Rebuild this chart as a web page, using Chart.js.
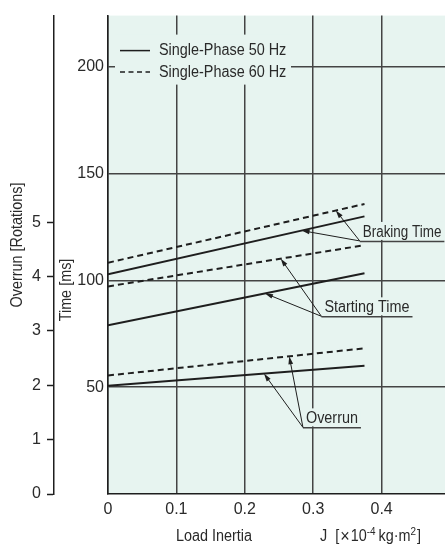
<!DOCTYPE html>
<html>
<head>
<meta charset="utf-8">
<script src="https://cdn.jsdelivr.net/npm/chart.js@4"></script>
<style>
    html, body { margin: 0; padding: 0; overflow: hidden; background: #fff; }
    canvas { display: block; }
</style>
</head>
<body>
<canvas id="chart" width="460" height="545"></canvas>
<script>
(function () {
    'use strict';

    // Load inertia J [x10^-4 kg·m2] at the two ends of every line.
    var LOAD_INERTIA = [0, 0.375];

    // Time [ms]
    var BRAKING_50  = [102.9, 130.0];
    var BRAKING_60  = [108.3, 135.8];
    var STARTING_50 = [79.0, 103.4];
    var STARTING_60 = [97.2, 116.5];

    // Overrun [rotations]
    var OVERRUN_50 = [1.99, 2.36];
    var OVERRUN_60 = [2.18, 2.68];

    var X_TICKS       = [0, 0.1, 0.2, 0.3, 0.4];
    var TIME_TICKS    = [50, 100, 150, 200];
    var OVERRUN_TICKS = [0, 1, 2, 3, 4, 5];

    var LEGEND_LABELS = ['Single-Phase 50 Hz', 'Single-Phase 60 Hz'];

    var BG      = '#e7f4f0';
    var INK     = '#1e1e1e';
    var GRID    = '#444';
    var TEXT    = '#2a2a2a';
    var FONT    = '"Liberation Sans", Arial, sans-serif';
    var SQUEEZE = 0.9;   // condensed look for the drawn labels
    var DASH    = [6, 4];

    function points(ys) {
        return LOAD_INERTIA.map(function (x, i) { return { x: x, y: ys[i] }; });
    }

    function series(label, ys, axis, dashed) {
        return {
            label:       label,
            data:        points(ys),
            yAxisID:     axis,
            borderColor: INK,
            borderWidth: 2,
            borderDash:  dashed ? DASH : [],
            pointRadius: 0,
            fill:        false,
            tension:     0
        };
    }

    var datasets = [
        series('Braking 50 Hz',  BRAKING_50,  'time', false),
        series('Braking 60 Hz',  BRAKING_60,  'time', true),
        series('Starting 50 Hz', STARTING_50, 'time', false),
        series('Starting 60 Hz', STARTING_60, 'time', true),
        series('Overrun 50 Hz',  OVERRUN_50,  'rot',  false),
        series('Overrun 60 Hz',  OVERRUN_60,  'rot',  true)
    ];

    // Callouts: underline start in (J, ms), arrows to [dataset index, J on that line].
    var NOTES = [
        { text: 'Braking Time',  at: [0.368, 118.5], to: [[0, 0.283],  [1, 0.333]] },
        { text: 'Starting Time', at: [0.312, 83.2],  to: [[2, 0.2295], [3, 0.2525]] },
        { text: 'Overrun',       at: [0.285, 31.2],  to: [[4, 0.228],  [5, 0.265]] }
    ];

    function text(ctx, str, x, y, opts) {
        opts = opts || {};
        ctx.save();
        ctx.translate(x, y);
        if (opts.rotate) ctx.rotate(-Math.PI / 2);
        ctx.scale(opts.squeeze || SQUEEZE, 1);
        ctx.font = (opts.size || 16) + 'px ' + FONT;
        ctx.fillStyle = opts.color || TEXT;
        ctx.textAlign = opts.align || 'left';
        ctx.textBaseline = opts.baseline || 'middle';
        ctx.fillText(str, 0, 0);
        var w = ctx.measureText(str).width * (opts.squeeze || SQUEEZE);
        ctx.restore();
        return w;
    }

    function arrow(ctx, x0, y0, x1, y1) {
        var a = Math.atan2(y1 - y0, x1 - x0);
        var len = 8, half = 2.4;
        var c = Math.cos(a), s = Math.sin(a);
        ctx.beginPath();
        ctx.moveTo(x0, y0);
        ctx.lineTo(x1 - c * len * 0.7, y1 - s * len * 0.7);
        ctx.stroke();
        ctx.beginPath();
        ctx.moveTo(x1, y1);
        ctx.lineTo(x1 - c * len + s * half, y1 - s * len - c * half);
        ctx.lineTo(x1 - c * len - s * half, y1 - s * len + c * half);
        ctx.closePath();
        ctx.fill();
    }

    function valueOn(ds, j) {
        var d = ds.data;
        var t = (j - d[0].x) / (d[1].x - d[0].x);
        return d[0].y + (d[1].y - d[0].y) * t;
    }

    var plotBackground = {
        id: 'plotBackground',
        beforeDraw: function (chart) {
            var a = chart.chartArea, ctx = chart.ctx;
            ctx.save();
            ctx.fillStyle = BG;
            ctx.fillRect(a.left, a.top, a.right - a.left, a.bottom - a.top);
            ctx.restore();
        }
    };

    var decorations = {
        id: 'decorations',
        afterDatasetsDraw: function (chart) {
            var ctx = chart.ctx, a = chart.chartArea;
            var xs = chart.scales.x, ts = chart.scales.time;

            // Legend inside the plot
            ctx.save();
            ctx.fillStyle = BG;
            ctx.fillRect(a.left + 7, a.top + 19, 176, 50);
            ctx.strokeStyle = INK;
            ctx.lineWidth = 1.5;
            [false, true].forEach(function (dashed, i) {
                var y = a.top + 35 + i * 21.5;
                ctx.setLineDash(dashed ? [5, 3.5] : []);
                ctx.beginPath();
                ctx.moveTo(a.left + 12, y);
                ctx.lineTo(a.left + 42, y);
                ctx.stroke();
                text(ctx, LEGEND_LABELS[i], a.left + 51, y);
            });
            ctx.setLineDash([]);

            // Callouts
            NOTES.forEach(function (n, k) {
                var ax = xs.getPixelForValue(n.at[0]);
                var ay = ts.getPixelForValue(n.at[1]);
                var sq = k === 0 ? 0.84 : SQUEEZE;
                ctx.font = '16px ' + FONT;
                var w = ctx.measureText(n.text).width * sq;
                ctx.fillStyle = BG;
                ctx.fillRect(ax + 1, ay - 19, w + 5, 18);
                text(ctx, n.text, ax + 3, ay - 4, { baseline: 'alphabetic', squeeze: sq });
                ctx.strokeStyle = GRID;
                ctx.lineWidth = 1.5;
                ctx.beginPath();
                ctx.moveTo(ax, ay + 0.5);
                ctx.lineTo(ax + w + 6, ay + 0.5);
                ctx.stroke();
                ctx.strokeStyle = INK;
                ctx.fillStyle = INK;
                ctx.lineWidth = 1;
                n.to.forEach(function (t) {
                    var ds = chart.data.datasets[t[0]];
                    var sc = chart.scales[ds.yAxisID];
                    arrow(ctx, ax, ay, xs.getPixelForValue(t[1]), sc.getPixelForValue(valueOn(ds, t[1])));
                });
            });

            // Axis titles
            text(ctx, 'Overrun [Rotations]', 18, 245, { rotate: true, align: 'center' });
            text(ctx, 'Time [ms]', 67, 290, { rotate: true, align: 'center' });
            text(ctx, 'Load Inertia', 214, 537, { align: 'center' });

            var x = 320, y = 537;
            x += text(ctx, 'J', x, y) + 8;
            x += text(ctx, '[', x, y) + 1;
            x += text(ctx, '\u00d7', x, y, { size: 18 }) + 1;
            x += text(ctx, '10', x, y);
            x += text(ctx, '-4', x, y - 5, { size: 11 }) + 3;
            x += text(ctx, 'kg\u00b7m', x, y);
            x += text(ctx, '2', x, y - 5, { size: 11 }) + 1;
            text(ctx, ']', x, y);
            ctx.restore();
        }
    };

    var tickFont = { family: FONT, size: 16 };

    new Chart(document.getElementById('chart'), {
        type: 'line',
        data: { datasets: datasets },
        options: {
            responsive: false,
            animation: false,
            devicePixelRatio: 1,
            layout: { padding: { top: 11, right: 10, left: 0, bottom: 0 } },
            plugins: { legend: { display: false }, tooltip: { enabled: false } },
            scales: {
                x: {
                    type: 'linear',
                    min: 0,
                    max: 0.5,
                    afterBuildTicks: function (s) { s.ticks = X_TICKS.map(function (v) { return { value: v }; }); },
                    afterFit: function (s) { s.height = 51; },
                    grid: { color: GRID, lineWidth: 1.5, drawTicks: false },
                    border: { color: INK, width: 1.5 },
                    ticks: { font: tickFont, color: TEXT, padding: 6, maxRotation: 0, autoSkip: false }
                },
                time: {
                    type: 'linear',
                    position: 'left',
                    weight: 0,
                    min: 0,
                    max: 224,
                    afterBuildTicks: function (s) { s.ticks = TIME_TICKS.map(function (v) { return { value: v }; }); },
                    afterFit: function (s) { s.width = 54; },
                    grid: { color: GRID, lineWidth: 1.5, drawTicks: false },
                    border: { color: INK, width: 1.5 },
                    ticks: { font: tickFont, color: TEXT, padding: 4, autoSkip: false }
                },
                rot: {
                    type: 'linear',
                    position: 'left',
                    weight: 1,
                    min: 0,
                    max: 8.8,
                    afterBuildTicks: function (s) { s.ticks = OVERRUN_TICKS.map(function (v) { return { value: v }; }); },
                    afterFit: function (s) { s.width = 54; },
                    grid: { drawOnChartArea: false, drawTicks: true, tickLength: 7, tickColor: INK, tickWidth: 1.5 },
                    border: { color: INK, width: 1.5 },
                    ticks: { font: tickFont, color: TEXT, padding: 6, autoSkip: false }
                }
            }
        },
        plugins: [plotBackground, decorations]
    });
}());
</script>
</body>
</html>
